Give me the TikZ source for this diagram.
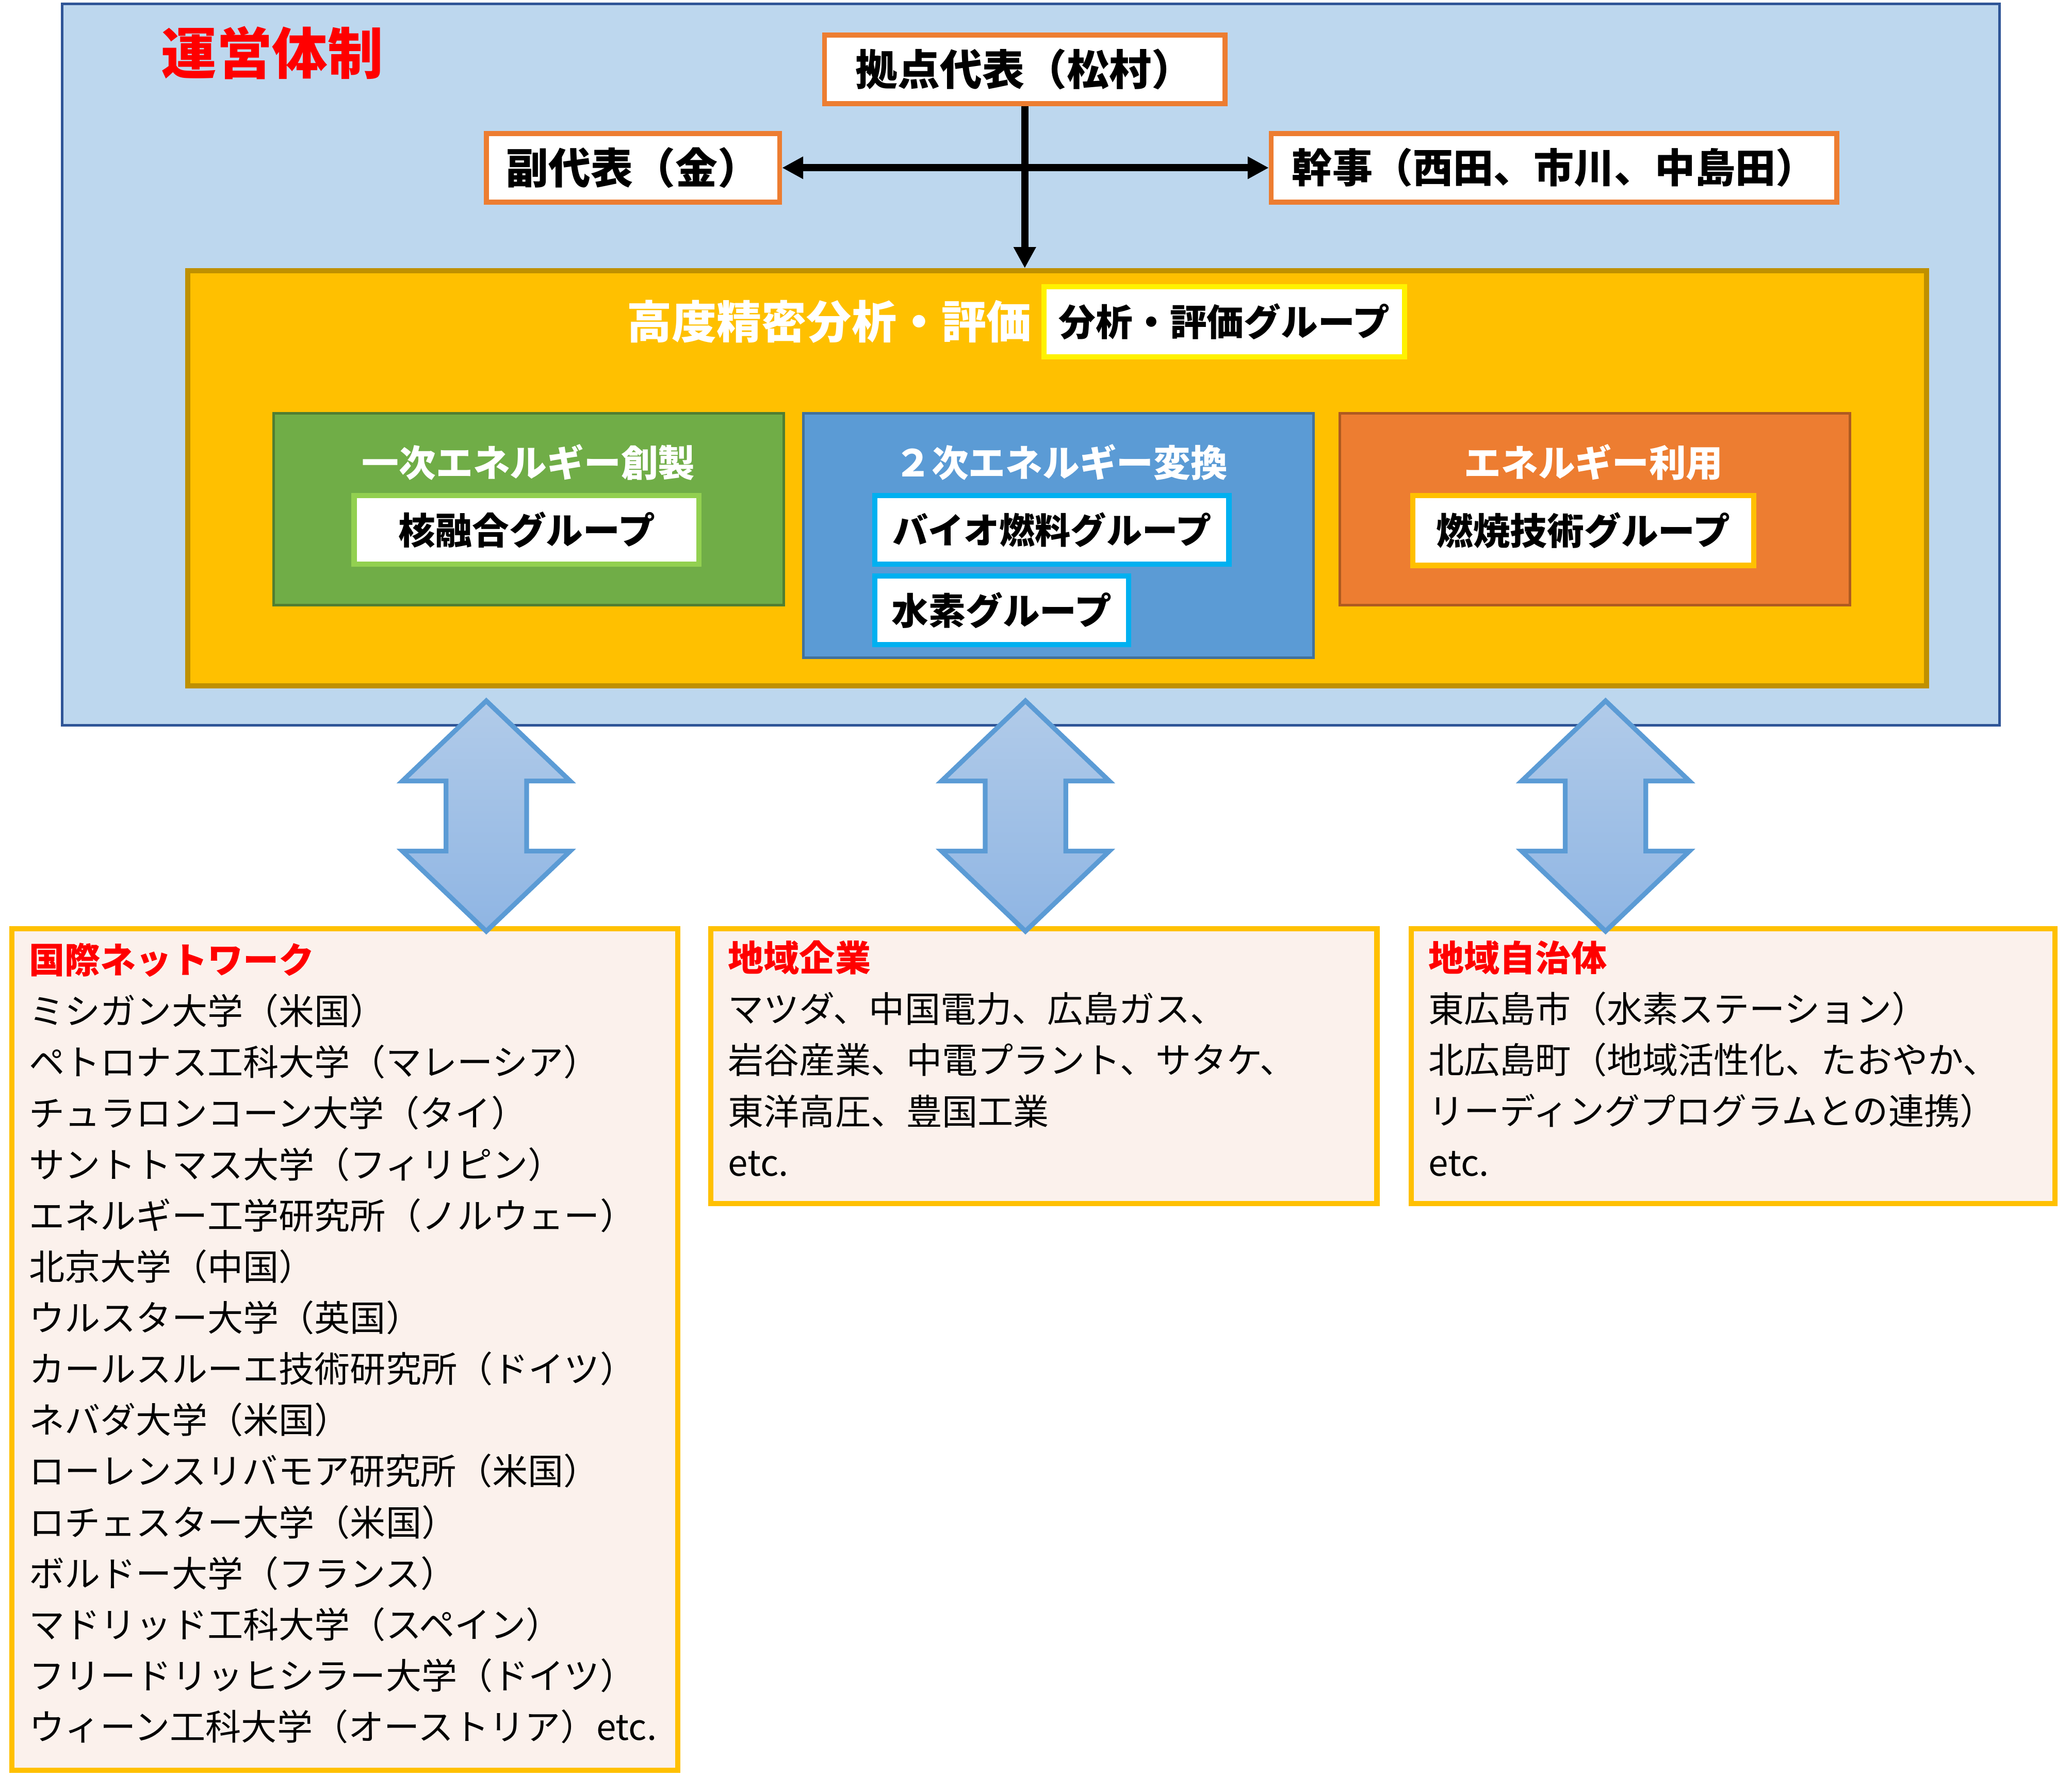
\documentclass[tikz,border=0pt]{standalone}
\usepackage{fontspec}
\setmainfont{Noto Sans CJK JP}
\usetikzlibrary{arrows.meta,positioning}
\definecolor{paleblue}{HTML}{BDD7EE}
\definecolor{navy}{HTML}{2F5597}
\definecolor{amber}{HTML}{FFC000}
\definecolor{amberdk}{HTML}{BF9000}
\definecolor{leaf}{HTML}{70AD47}
\definecolor{leafdk}{HTML}{507E32}
\definecolor{lime}{HTML}{92D050}
\definecolor{sky}{HTML}{5B9BD5}
\definecolor{skydk}{HTML}{41719C}
\definecolor{aqua}{HTML}{00B0F0}
\definecolor{tang}{HTML}{ED7D31}
\definecolor{tangdk}{HTML}{AE5A21}
\definecolor{peach}{HTML}{FBF1EC}
\definecolor{arrtop}{HTML}{B1CBE9}
\definecolor{arrbot}{HTML}{8FB5E3}
\newcommand{\lastdepth}{\rule[-12pt]{0pt}{12pt}}
\tikzset{
hdbox/.style={draw=tang, line width=3.7pt, fill=white, inner sep=0pt, font=\bfseries\fontsize{32}{36}\selectfont}, % leaders
grpbox/.style={draw=#1, line width=4pt, fill=white, inner sep=0pt, font=\bfseries\fontsize{28}{33}\selectfont}, % research groups
area/.style={draw=#1, line width=2pt, inner sep=0pt},
areattl/.style={text=white, font=\bfseries\fontsize{28}{33}\selectfont},
partner/.style={draw=amber, line width=4pt, fill=peach, anchor=north west, align=left, inner xsep=13pt, inner ysep=0pt, font=\fontsize{27}{38.7}\selectfont},
link/.style={line width=5.4pt, >={Triangle[length=16pt,width=16pt]}},
dblarrow/.pic={
  \path[draw=sky, line width=3.6pt, top color=arrtop, bottom color=arrbot]
  (0,-87.2) -- (63.5,-26.5) -- (30.5,-26.5) -- (30.5,26.5) -- (63.5,26.5) -- (0,87.2)
  -- (-63.5,26.5) -- (-30.5,26.5) -- (-30.5,-26.5) -- (-63.5,-26.5) -- cycle;
},
}

\begin{document}
\begin{tikzpicture}[x=1pt,y=-1pt]
   \useasboundingbox (0,0) rectangle (1568,1345);
   \node[area=navy, fill=paleblue, minimum width=1466pt, minimum height=546pt] (frame) at (780,276) {};
   \node[text=red, font=\bfseries\fontsize{42}{48}\selectfont] (head) at (206,40) {運営体制};
   \node[hdbox, minimum width=303pt, minimum height=52pt] (rep) at (775.5,52.5) {拠点代表（松村）};
   \node[hdbox, minimum width=222pt, minimum height=52pt] (vice) at (479,127) {副代表（金）};
   \node[hdbox, font=\bfseries\fontsize{30.5}{36}\selectfont, minimum width=428pt, minimum height=52pt] (sec) at (1176,127) {幹事（西田、市川、中島田）};
   \node[area=amberdk, fill=amber, line width=4pt, minimum width=1316pt, minimum height=314pt] (core) at (800,362) {};
   \node[grpbox=yellow, minimum width=273pt, minimum height=53pt] (ana) at (926.5,243.5) {分析・評価グループ};
   \node[areattl, font=\bfseries\fontsize{34}{38}\selectfont] (anattl) [left=4pt of ana] {高度精密分析・評価};
   % three research areas
   \node[area=leafdk, fill=leaf, minimum width=386pt, minimum height=145pt] (prim) at (400,385.5) {};
   \node[areattl] (primttl) at (400,350) {一次エネルギー創製};
   \node[grpbox=lime, minimum width=261pt, minimum height=52pt] (fus) at (398.5,401) {核融合グループ};
   \node[area=skydk, fill=sky, minimum width=386pt, minimum height=185pt] (conv) at (801,405.5) {};
   \node[areattl] (convttl) at (803,350) {２次エネルギー変換};
   \node[grpbox=aqua, font=\bfseries\fontsize{27}{33}\selectfont, minimum width=268pt, minimum height=52pt] (bio) at (796,401) {バイオ燃料グループ};
   \node[grpbox=aqua, minimum width=192pt, minimum height=52pt] (hyd) at (758,462) {水素グループ};
   \node[area=tangdk, fill=tang, minimum width=386pt, minimum height=145pt] (use) at (1207,385.5) {};
   \node[areattl] (usettl) at (1206,350) {エネルギー利用};
   \node[grpbox=amber, minimum width=258pt, minimum height=53pt] (comb) at (1198,401.5) {燃焼技術グループ};
   \draw[link, ->] (rep.south) -- (rep.south |- core.north);
   \draw[link, <->] (vice) -- (sec);
   % partners
   \node[partner, text width=478pt, minimum height=637pt] (intl) at (7,701) {\textcolor{red}{\bfseries 国際ネットワーク}\\
      ミシガン大学（米国）\\
      ペトロナス工科大学（マレーシア）\\
      チュラロンコーン大学（タイ）\\
      サントトマス大学（フィリピン）\\
      エネルギー工学研究所（ノルウェー）\\
      北京大学（中国）\\
      ウルスター大学（英国）\\
      カールスルーエ技術研究所（ドイツ）\\
      ネバダ大学（米国）\\
      ローレンスリバモア研究所（米国）\\
      ロチェスター大学（米国）\\
      ボルドー大学（フランス）\\
      マドリッド工科大学（スペイン）\\
      フリードリッヒシラー大学（ドイツ）\\
      ウィーン工科大学（オーストリア）etc.\lastdepth};
   \node[partner, text width=478pt, minimum height=208pt] (corp) at (536,701) {\textcolor{red}{\bfseries 地域企業}\\
      マツダ、中国電力、広島ガス、\\
      岩谷産業、中電プラント、サタケ、\\
      東洋高圧、豊国工業\\
      etc.\lastdepth};
   \node[partner, text width=461pt, minimum height=208pt] (gov) at (1066,701) {\textcolor{red}{\bfseries 地域自治体}\\
      東広島市（水素ステーション）\\
      北広島町（地域活性化、たおやか、\\
      リーディングプログラムとの連携）\\
      etc.\lastdepth};
   \pic at (368,617.7) {dblarrow};
   \pic at (776,617.7) {dblarrow};
   \pic at (1215,617.7) {dblarrow};
\end{tikzpicture}
\end{document}
